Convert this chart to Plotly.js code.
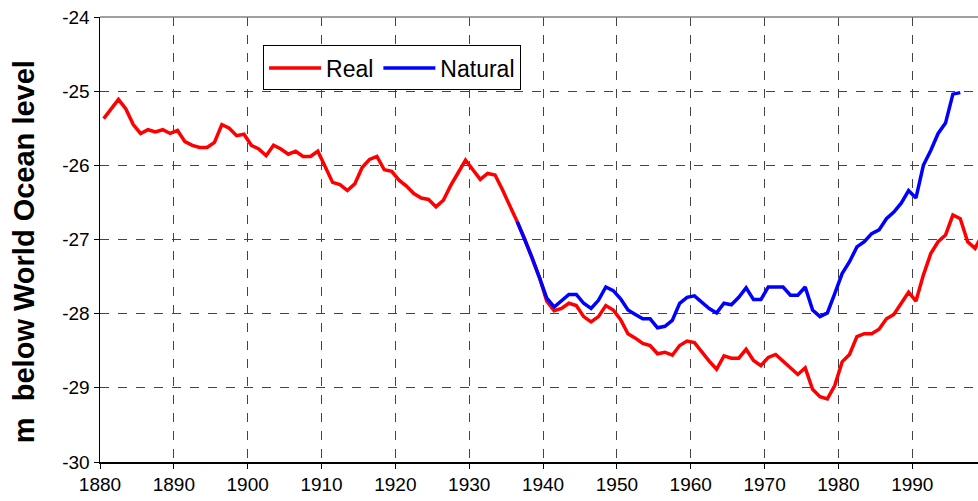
<!DOCTYPE html>
<html>
<head>
<meta charset="utf-8">
<script src="https://cdn.plot.ly/plotly-3.0.1.min.js"></script>
<style>
html,body{margin:0;padding:0;background:#fff;}
#chart{width:978px;height:501px;}
</style>
</head>
<body>
<div id="chart"></div>
<script>
// Years (values plotted at mid-year)
var realStartYear = 1880;
var realValues = [
  -25.37,-25.23,-25.11,-25.24,-25.45,-25.57,-25.52,-25.55,-25.52,-25.57,
  -25.53,-25.68,-25.73,-25.76,-25.76,-25.69,-25.45,-25.50,-25.60,-25.58,
  -25.73,-25.78,-25.87,-25.73,-25.78,-25.85,-25.81,-25.88,-25.88,-25.81,
  -26.02,-26.23,-26.26,-26.34,-26.25,-26.03,-25.92,-25.88,-26.06,-26.08,
  -26.20,-26.28,-26.38,-26.44,-26.46,-26.56,-26.47,-26.27,-26.10,-25.93,
  -26.06,-26.19,-26.11,-26.13,-26.33,-26.54,-26.76,-26.99,-27.24,-27.51,
  -27.83,-27.96,-27.93,-27.86,-27.89,-28.04,-28.11,-28.04,-27.89,-27.95,
  -28.08,-28.27,-28.33,-28.40,-28.43,-28.54,-28.52,-28.56,-28.43,-28.37,
  -28.39,-28.52,-28.64,-28.75,-28.57,-28.60,-28.60,-28.48,-28.63,-28.70,
  -28.59,-28.55,-28.64,-28.74,-28.82,-28.73,-29.02,-29.12,-29.15,-28.97,
  -28.65,-28.55,-28.31,-28.27,-28.27,-28.21,-28.07,-28.01,-27.86,-27.71,
  -27.83,-27.48,-27.19,-27.03,-26.94,-26.67,-26.72,-27.03,-27.12,-26.93
];
var naturalStartYear = 1936;
var naturalValues = [
  -26.76,-26.99,-27.24,-27.51,
  -27.79,-27.91,-27.82,-27.74,-27.74,-27.86,-27.93,-27.82,-27.64,-27.69,
  -27.80,-27.95,-28.01,-28.07,-28.07,-28.19,-28.17,-28.09,-27.86,-27.78,
  -27.76,-27.84,-27.93,-27.99,-27.86,-27.88,-27.78,-27.65,-27.81,-27.81,
  -27.64,-27.64,-27.64,-27.75,-27.75,-27.64,-27.95,-28.04,-27.99,-27.73,
  -27.46,-27.30,-27.10,-27.03,-26.92,-26.87,-26.72,-26.63,-26.51,-26.34,
  -26.44,-26.00,-25.80,-25.57,-25.43,-25.04,-25.02
];
var xTickVals = [1880,1890,1900,1910,1920,1930,1940,1950,1960,1970,1980,1990];
var xTickText = ["1880","1890","1900","1910","1920","1930","1940","1950","1960","1970","1980","1990"];
var yTickVals = [-30,-29,-28,-27,-26,-25,-24];
var yTickText = ["-30","-29","-28","-27","-26","-25","-24"];
var yTitle = 'm\u00a0 below World Ocean level';

function midYears(start, n){
  var out = [];
  for (var i = 0; i < n; i++) out.push(start + i + 0.5);
  return out;
}

var font = "Arial, 'Liberation Sans', Helvetica, sans-serif";

var traces = [
  {
    x: midYears(realStartYear, realValues.length),
    y: realValues,
    type: 'scatter', mode: 'lines', name: 'Real',
    line: {color: '#FF0000', width: 3.5}
  },
  {
    x: midYears(naturalStartYear, naturalValues.length),
    y: naturalValues,
    type: 'scatter', mode: 'lines', name: 'Natural',
    line: {color: '#0000FF', width: 3.5}
  }
];

var layout = {
  width: 978, height: 501,
  margin: {l: 100, r: 0, t: 17, b: 39, pad: 0},
  paper_bgcolor: '#ffffff',
  plot_bgcolor: '#ffffff',
  showlegend: true,
  legend: {
    orientation: 'h',
    x: 0.1857, y: 0.936, xanchor: 'left', yanchor: 'top',
    bgcolor: '#ffffff', bordercolor: '#000000', borderwidth: 1,
    font: {family: font, size: 23, color: '#000'},
    itemwidth: 52, tracegroupgap: 0
  },
  xaxis: {
    range: [1880, 1998.9],
    tickvals: xTickVals, ticktext: xTickText,
    showgrid: true, gridcolor: '#444444', griddash: 'dash', gridwidth: 1,
    zeroline: false,
    showline: true, linecolor: '#000000', linewidth: 1.5,
    ticks: 'outside', ticklen: 5, tickcolor: '#000000', tickwidth: 1,
    tickfont: {family: font, size: 19, color: '#000'},
    fixedrange: true
  },
  yaxis: {
    range: [-30, -24],
    tickvals: yTickVals, ticktext: yTickText,
    showgrid: true, gridcolor: '#444444', griddash: 'dash', gridwidth: 1,
    zeroline: false,
    showline: true, linecolor: '#000000', linewidth: 1.5,
    ticks: 'outside', ticklen: 5, tickcolor: '#000000', tickwidth: 1,
    tickfont: {family: font, size: 19, color: '#000'},
    fixedrange: true
  },
  annotations: [
    {text: yTitle, xref: 'paper', yref: 'paper', x: -0.087, y: 0.473,
     xanchor: 'center', yanchor: 'middle', textangle: -90, showarrow: false,
     font: {family: font, size: 29, color: '#000', weight: 'bold'}}
  ],
  shapes: [
    {type: 'line', xref: 'paper', yref: 'paper', x0: 0, x1: 1, y0: 1, y1: 1,
     line: {color: '#808080', width: 1.5}}
  ]
};

Plotly.newPlot('chart', traces, layout, {displayModeBar: false, staticPlot: true});
</script>
</body>
</html>
